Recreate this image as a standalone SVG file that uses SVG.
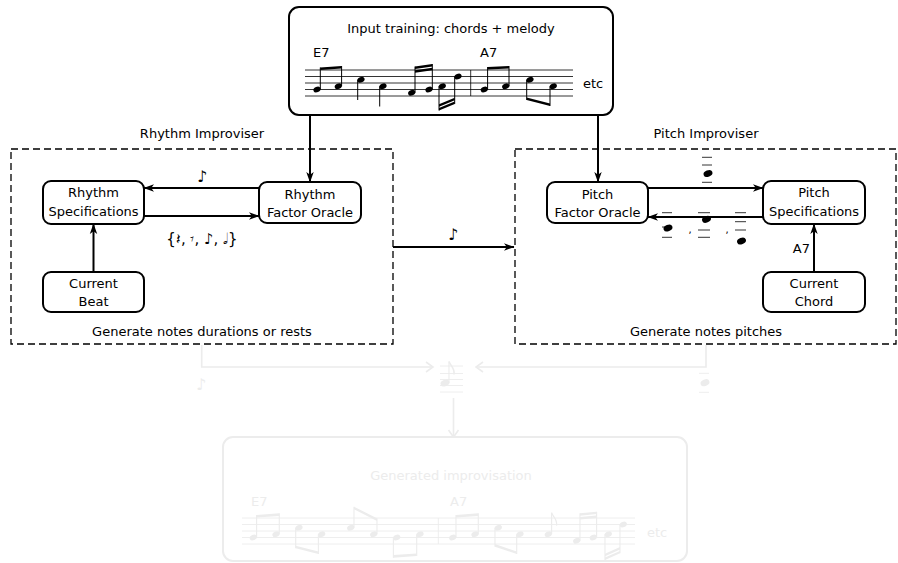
<svg xmlns="http://www.w3.org/2000/svg" width="898" height="563" viewBox="0 0 898 563">
<defs>
<style>
text{font-family:"DejaVu Sans","Liberation Sans",sans-serif;font-size:13px;fill:#000}
.c{text-anchor:middle}
.node{fill:#fff;stroke:#000;stroke-width:2}
.dash{fill:none;stroke:#000;stroke-width:1.3;stroke-dasharray:7 4}
.con{fill:none;stroke:#000;stroke-width:2}
.staff{stroke:#000;stroke-width:0.8}
.stem{stroke:#000;stroke-width:1}
.head{fill:#000}
.beam{fill:#000}
.fstaff{stroke:#ececec;stroke-width:0.9}
.fstem{stroke:#ececec;stroke-width:1.1}
.fhead{fill:#ececec}
.ftext{fill:#ececec}
.fcon{fill:none;stroke:#ececec;stroke-width:1.6}
.sym{font-family:"DejaVu Sans","Noto Sans",sans-serif}
</style>
<marker id="ah" markerWidth="11" markerHeight="9" refX="10" refY="4.5" orient="auto" markerUnits="userSpaceOnUse"><path d="M0,0.8 L10.5,4.5 L0,8.2 L2.8,4.5 z" fill="#000"/></marker>
<marker id="fh" markerWidth="10" markerHeight="13" refX="8.5" refY="6.5" orient="auto" markerUnits="userSpaceOnUse"><path d="M1.5,1.5 L8.5,6.5 L1.5,11.5" fill="none" stroke="#ececec" stroke-width="1.6"/></marker>
<g id="h"><ellipse cx="0" cy="0" rx="3.7" ry="2.7" transform="rotate(-22)"/></g>
</defs>
<rect width="898" height="563" fill="#fff"/>

<!-- Input training box -->
<g id="input">
<rect x="289" y="7" width="324" height="108" rx="10" class="node"/>
<text x="451" y="33" class="c">Input training:  chords + melody</text>
<text x="313" y="57">E7</text>
<text x="480" y="57">A7</text>
<text x="583" y="88">etc</text>
<g class="staff"><line x1="305" y1="70" x2="573" y2="70"/><line x1="305" y1="76.5" x2="573" y2="76.5"/><line x1="305" y1="83" x2="573" y2="83"/><line x1="305" y1="89.5" x2="573" y2="89.5"/><line x1="305" y1="96" x2="573" y2="96"/><line x1="470.7" y1="70" x2="470.7" y2="96"/></g>
<g class="head">
<use href="#h" x="317" y="89.5"/><use href="#h" x="338.3" y="86.25"/><use href="#h" x="361" y="79.75"/><use href="#h" x="383" y="86.25"/><use href="#h" x="411.7" y="92.75"/><use href="#h" x="429" y="89.5"/><use href="#h" x="442.3" y="86.25"/><use href="#h" x="458" y="76.5"/><use href="#h" x="484.3" y="89.5"/><use href="#h" x="505.7" y="86.25"/><use href="#h" x="530" y="79.75"/><use href="#h" x="553.3" y="86.25"/>
</g>
<g class="stem">
<line x1="320.3" y1="89.5" x2="320.3" y2="67.5"/><line x1="341.6" y1="86.25" x2="341.6" y2="66"/>
<line x1="357.7" y1="79.75" x2="357.7" y2="100"/><line x1="379.7" y1="86.25" x2="379.7" y2="106.5"/>
<line x1="415" y1="92.75" x2="415" y2="66.5"/><line x1="432.3" y1="89.5" x2="432.3" y2="64"/>
<line x1="439" y1="86.25" x2="439" y2="110.5"/><line x1="454.7" y1="76.5" x2="454.7" y2="104"/>
<line x1="487.6" y1="89.5" x2="487.6" y2="67"/><line x1="509" y1="86.25" x2="509" y2="66"/>
<line x1="526.7" y1="79.75" x2="526.7" y2="100"/><line x1="550" y1="86.25" x2="550" y2="106"/>
</g>
<g class="beam">
<polygon points="320.3,67.5 341.6,66 341.6,68.6 320.3,70.1"/>
<polygon points="415,66.5 432.3,64 432.3,66.4 415,68.9"/><polygon points="415,70.3 432.3,67.8 432.3,70.2 415,72.7"/>
<polygon points="439,110.5 454.7,104 454.7,101.6 439,108.1"/><polygon points="439,106.7 454.7,100.2 454.7,97.8 439,104.3"/>
<polygon points="487.6,67 509,66 509,68.6 487.6,69.6"/>
<polygon points="526.7,100 550,106 550,103.4 526.7,97.4"/>
</g>
</g>

<!-- Dashed containers -->
<g id="rhythm-improviser">
<rect x="11" y="149" width="382" height="195" class="dash"/>
<text x="202" y="138" class="c">Rhythm Improviser</text>
<text x="202" y="336" class="c">Generate notes durations or rests</text>
</g>
<g id="pitch-improviser">
<rect x="515" y="149" width="381" height="195" class="dash"/>
<text x="706" y="138" class="c">Pitch Improviser</text>
<text x="706" y="336" class="c">Generate notes pitches</text>
</g>

<!-- Nodes -->
<g id="rhythm-spec"><rect x="43" y="181" width="101" height="43" rx="8" class="node"/><text x="93.5" y="197" class="c">Rhythm</text><text x="93.5" y="216" class="c">Specifications</text></g>
<g id="rhythm-fo"><rect x="259" y="182" width="102" height="41" rx="8" class="node"/><text x="310" y="199" class="c">Rhythm</text><text x="310" y="217" class="c">Factor Oracle</text></g>
<g id="current-beat"><rect x="43" y="272" width="101" height="40" rx="8" class="node"/><text x="93.5" y="288" class="c">Current</text><text x="93.5" y="306" class="c">Beat</text></g>
<g id="pitch-fo"><rect x="547" y="182" width="101" height="41" rx="8" class="node"/><text x="597.5" y="199" class="c">Pitch</text><text x="597.5" y="217" class="c">Factor Oracle</text></g>
<g id="pitch-spec"><rect x="763" y="181" width="102" height="43" rx="8" class="node"/><text x="814" y="197" class="c">Pitch</text><text x="814" y="216" class="c">Specifications</text></g>
<g id="current-chord"><rect x="763" y="272" width="102" height="40" rx="8" class="node"/><text x="814" y="288" class="c">Current</text><text x="814" y="306" class="c">Chord</text></g>

<!-- Connectors -->
<g id="connectors">
<path d="M310,116 V182" class="con" marker-end="url(#ah)"/>
<path d="M598,116 V182" class="con" marker-end="url(#ah)"/>
<path d="M259,188 H144" class="con" marker-end="url(#ah)"/>
<path d="M144,216 H259" class="con" marker-end="url(#ah)"/>
<path d="M93.5,272 V224" class="con" marker-end="url(#ah)"/>
<path d="M648,188 H763" class="con" marker-end="url(#ah)"/>
<path d="M763,217 H648" class="con" marker-end="url(#ah)"/>
<path d="M814,272 V224" class="con" marker-end="url(#ah)"/>
<path d="M393,247 H514" class="con" marker-end="url(#ah)"/>
<path d="M201.7,345 V367 H433" class="fcon" marker-end="url(#fh)"/>
<path d="M706,345 V367 H476" class="fcon" marker-end="url(#fh)"/>
<path d="M453.5,398 V437" class="fcon" marker-end="url(#fh)"/>
</g>

<!-- Connector labels -->
<g id="labels">
<text x="202" y="182" class="c sym" style="font-size:16px">♪</text>
<text x="202" y="244" class="c sym" style="font-size:15px">{𝄽, 𝄾, ♪, 𝅗𝅥}</text>
<text x="453" y="240" class="c sym" style="font-size:16px">♪</text>
<text x="810" y="253" style="text-anchor:end">A7</text>
<g class="staff">
<line x1="702" y1="157.3" x2="712" y2="157.3"/><line x1="702" y1="165" x2="712" y2="165"/><line x1="702" y1="182.3" x2="712" y2="182.3"/>
<line x1="662" y1="212.7" x2="672" y2="212.7"/><line x1="662" y1="227" x2="672" y2="227"/><line x1="662" y1="237.3" x2="672" y2="237.3"/>
<line x1="698" y1="212.7" x2="710" y2="212.7"/><line x1="698" y1="230" x2="710" y2="230"/><line x1="698" y1="237.3" x2="710" y2="237.3"/>
<line x1="735" y1="212.7" x2="746" y2="212.7"/><line x1="735" y1="221.7" x2="746" y2="221.7"/><line x1="735" y1="230" x2="746" y2="230"/>
</g>
<g class="head">
<ellipse cx="708" cy="173.5" rx="4.6" ry="3.2" transform="rotate(-22 708 173.5)"/>
<ellipse cx="668" cy="228" rx="4.6" ry="3.2" transform="rotate(-22 668 228)"/>
<ellipse cx="706.5" cy="219.3" rx="4.6" ry="3.2" transform="rotate(-22 706.5 219.3)"/>
<ellipse cx="741.5" cy="241" rx="4.6" ry="3.2" transform="rotate(-22 741.5 241)"/>
</g>
<text x="688.5" y="233" style="font-size:10px">,</text>
<text x="725.5" y="233" style="font-size:10px">,</text>
</g>

<!-- Faint generated part -->
<g id="faint-symbols">
<text x="201" y="390" class="c sym ftext" style="font-size:16px">♪</text>
<g class="fstaff">
<line x1="440" y1="366" x2="463" y2="366"/><line x1="440" y1="373.5" x2="463" y2="373.5"/><line x1="440" y1="379.5" x2="463" y2="379.5"/><line x1="440" y1="385.5" x2="463" y2="385.5"/><line x1="440" y1="392" x2="463" y2="392"/>
<line x1="699" y1="373.3" x2="709" y2="373.3"/><line x1="699" y1="392.3" x2="709" y2="392.3"/>
</g>
<g class="fhead">
<ellipse cx="445" cy="383" rx="4.6" ry="3.2" transform="rotate(-22 445 383)"/>
<ellipse cx="705" cy="382.7" rx="4.6" ry="3.2" transform="rotate(-22 705 382.7)"/>
</g>
<line x1="449" y1="383" x2="449" y2="361.5" class="fstem"/>
<path d="M449,361.5 c1,4 6,6 5,13" class="fcon" stroke-width="1.2"/>
</g>

<g id="generated">
<rect x="223" y="437" width="464" height="124" rx="10" fill="#fff" stroke="#ececec" stroke-width="2"/>
<text x="451" y="480" class="c ftext">Generated improvisation</text>
<text x="251" y="506" class="ftext">E7</text>
<text x="450" y="506" class="ftext">A7</text>
<text x="647" y="537" class="ftext">etc</text>
<g class="fstaff"><line x1="242" y1="518" x2="635" y2="518"/><line x1="242" y1="524.5" x2="635" y2="524.5"/><line x1="242" y1="531" x2="635" y2="531"/><line x1="242" y1="537.5" x2="635" y2="537.5"/><line x1="242" y1="544" x2="635" y2="544"/><line x1="438.3" y1="518" x2="438.3" y2="544"/></g>
<g class="fhead">
<use href="#h" x="253.3" y="537.5"/><use href="#h" x="276" y="534.25"/><use href="#h" x="299" y="527.75"/><use href="#h" x="321.7" y="534.25"/><use href="#h" x="350.7" y="527.75"/><use href="#h" x="373.7" y="534.25"/><use href="#h" x="396.7" y="537.5"/><use href="#h" x="420" y="534.25"/><use href="#h" x="452.7" y="537.5"/><use href="#h" x="475" y="534.25"/><use href="#h" x="498.3" y="527.75"/><use href="#h" x="520" y="534.25"/><use href="#h" x="548.3" y="534.25"/><use href="#h" x="576.7" y="540.75"/><use href="#h" x="593.3" y="537.5"/><use href="#h" x="608.3" y="534.25"/><use href="#h" x="623.3" y="524.5"/>
</g>
<g class="fstem">
<line x1="256.6" y1="537.5" x2="256.6" y2="515"/><line x1="279.3" y1="534.25" x2="279.3" y2="513.3"/>
<line x1="295.7" y1="527.75" x2="295.7" y2="548.3"/><line x1="318.4" y1="534.25" x2="318.4" y2="554"/>
<line x1="354" y1="527.75" x2="354" y2="506.7"/><line x1="377" y1="534.25" x2="377" y2="518.3"/>
<line x1="393.4" y1="537.5" x2="393.4" y2="557.7"/><line x1="416.7" y1="534.25" x2="416.7" y2="556"/>
<line x1="456" y1="537.5" x2="456" y2="515"/><line x1="478.3" y1="534.25" x2="478.3" y2="513.3"/>
<line x1="495" y1="527.75" x2="495" y2="546.7"/><line x1="516.7" y1="534.25" x2="516.7" y2="554"/>
<line x1="551.6" y1="534.25" x2="551.6" y2="512.7"/>
<line x1="580" y1="540.75" x2="580" y2="513.3"/><line x1="596.6" y1="537.5" x2="596.6" y2="511.7"/>
<line x1="605" y1="534.25" x2="605" y2="560"/><line x1="620" y1="524.5" x2="620" y2="553.3"/>
</g>
<g class="fhead">
<polygon points="256.6,515 279.3,513.3 279.3,515.9 256.6,517.6"/>
<polygon points="295.7,548.3 318.4,554 318.4,551.4 295.7,545.7"/>
<polygon points="354,506.7 377,518.3 377,520.9 354,509.3"/>
<polygon points="393.4,557.7 416.7,556 416.7,553.4 393.4,555.1"/>
<polygon points="456,515 478.3,513.3 478.3,515.9 456,517.6"/>
<polygon points="495,546.7 516.7,554 516.7,551.4 495,544.1"/>
<polygon points="580,513.3 596.6,511.7 596.6,514.1 580,515.7"/><polygon points="580,517.1 596.6,515.5 596.6,517.9 580,519.5"/>
<polygon points="605,560 620,553.3 620,550.9 605,557.6"/><polygon points="605,556.2 620,549.5 620,547.1 605,553.8"/>
</g>
<path d="M551.6,512.7 c1,4 6,6 5,13" fill="none" stroke="#ececec" stroke-width="1.2"/>
</g>
</svg>
